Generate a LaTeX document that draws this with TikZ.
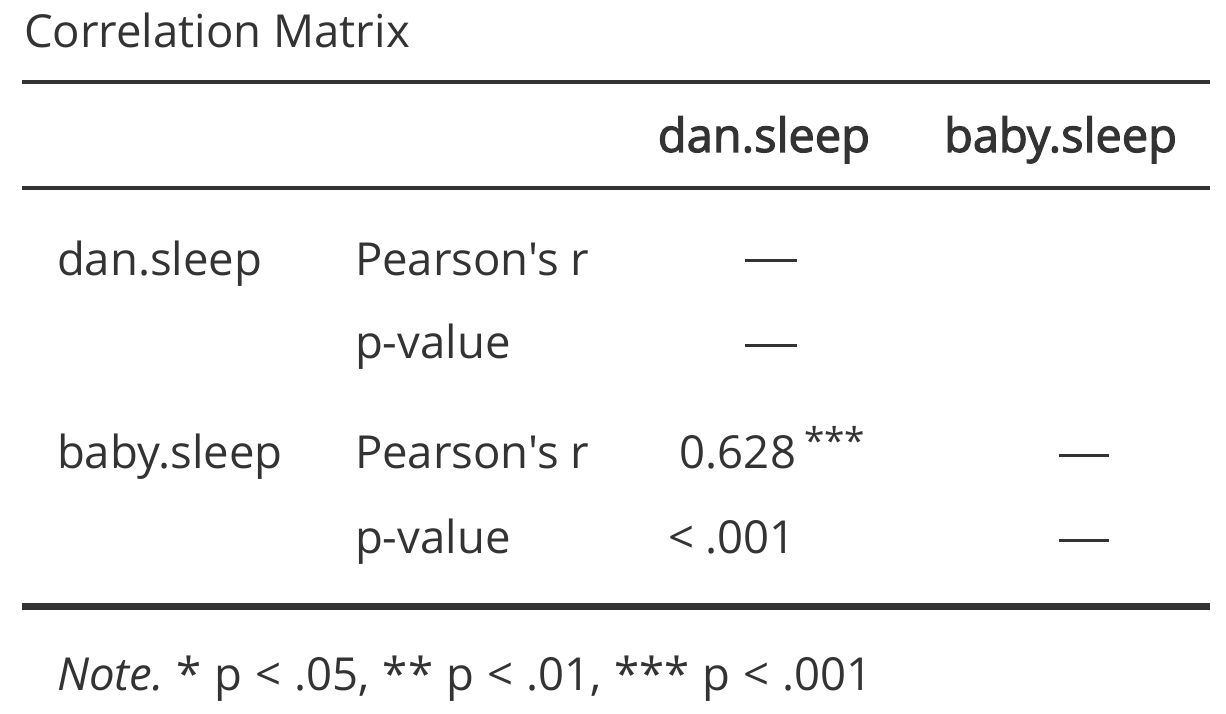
\documentclass[tikz,border=0pt]{standalone}
\usepackage{fontspec}
\setmainfont{Open Sans}[Ligatures=TeXOff]
\newfontfamily\semib{Open Sans}[FakeBold=2.5,Ligatures=TeXOff]
\definecolor{ink}{HTML}{333333}
\begin{document}
\begin{tikzpicture}[x=1pt,y=-1pt,
  txt/.style={inner sep=0pt,outer sep=0pt,text=ink,font=\fontsize{45.5}{54}\selectfont},
  hdr/.style={txt,font=\fontsize{47}{56}\selectfont\semib},
  sup/.style={inner sep=0pt,outer sep=0pt,text=ink,font=\fontsize{37}{42}\selectfont},
  rule/.style={draw=ink,line width=#1},
  dashline/.style={draw=ink,line width=3pt}]
\useasboundingbox (0,0) rectangle (1226,714);
\node[txt,anchor=base west] (title) at (24,48) {Correlation Matrix};
\coordinate (r1a) at (22,82); \coordinate (r1b) at (1210,82);
\draw[rule=4pt] (r1a) -- (r1b);
\node[hdr,anchor=base east] (h1) at (870,152) {dan.sleep};
\node[hdr,anchor=base east] (h2) at (1177,152) {baby.sleep};
\coordinate (r2a) at (22,188); \coordinate (r2b) at (1210,188);
\draw[rule=4pt] (r2a) -- (r2b);
% rows
\node[txt,anchor=base west] (v1) at (57,275) {dan.sleep};
\node[txt,anchor=base west] (s1) at (355,275) {Pearson's r};
\node[txt,anchor=base west] (s2) at (355,358) {p-value};
\node[txt,anchor=base west] (v2) at (57,468) {baby.sleep};
\node[txt,anchor=base west] (s3) at (355,468) {Pearson's r};
\node[txt,anchor=base west] (s4) at (355,553) {p-value};
% cells
\coordinate (d1a) at (745,260); \coordinate (d1b) at (797,260);
\draw[dashline] (d1a) -- (d1b);
\coordinate (d2a) at (745,345); \coordinate (d2b) at (797,345);
\draw[dashline] (d2a) -- (d2b);
\node[txt,anchor=base east] (c31) at (796,468) {0.628};
\node[sup,anchor=base west] (st) at (804,454) {***};
\node[txt,anchor=base east] (c41) at (796,553) {< .001};
\coordinate (d3a) at (1059,455); \coordinate (d3b) at (1109,455);
\draw[dashline] (d3a) -- (d3b);
\coordinate (d4a) at (1059,540); \coordinate (d4b) at (1109,540);
\draw[dashline] (d4a) -- (d4b);
\coordinate (r3a) at (22,606); \coordinate (r3b) at (1210,606);
\draw[rule=7pt] (r3a) -- (r3b);
\node[txt,anchor=base west] (note) at (57,690) {\spaceskip=13pt\textit{Note.}\hspace{-4pt} * p < .05, ** p < .01, *** p < .001};
\end{tikzpicture}
\end{document}
